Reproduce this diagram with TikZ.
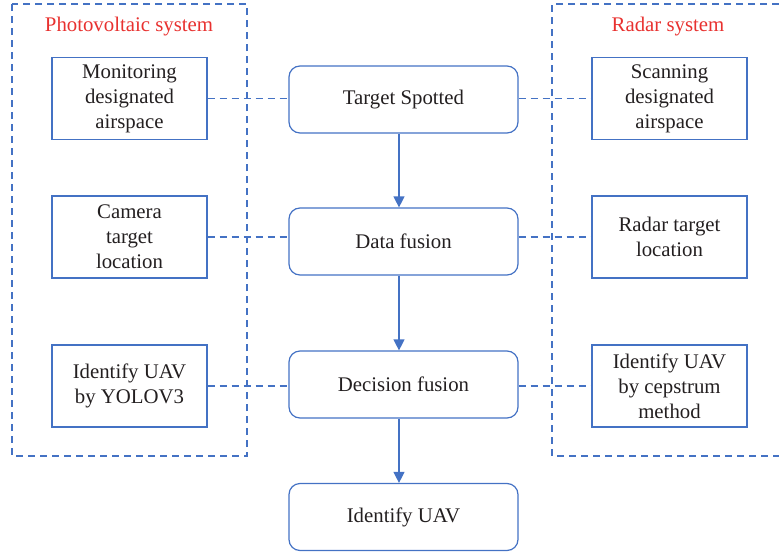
\documentclass[tikz,border=0pt]{standalone}
\usepackage{fontspec}
\setmainfont{Liberation Serif}
\usetikzlibrary{arrows.meta}
\definecolor{frameblue}{HTML}{4472C4}
\definecolor{titlered}{HTML}{E8312F}
\definecolor{ink}{HTML}{231F20}
\tikzset{
  sidebox/.style={draw=frameblue, line width=1.2pt, minimum width=155pt, minimum height=82pt,
    align=center, text=ink, font=\fontsize{20.8}{25}\selectfont, inner sep=0pt},
  stagebox/.style={draw=frameblue, line width=1.2pt, rounded corners=11pt, minimum width=229pt,
    minimum height=67pt, align=center, text=ink, font=\fontsize{20.8}{25}\selectfont, inner sep=0pt},
  grouptitle/.style={text=titlered, font=\fontsize{20.8}{24}\selectfont},
  groupframe/.style={draw=frameblue, line width=1.2pt, dash pattern=on 7pt off 5pt},
  link/.style={draw=frameblue, line width=1.2pt, dash pattern=on 7pt off 5pt},
  flow/.style={draw=frameblue, line width=1.2pt, -{Triangle[length=11pt,width=11pt]}}
}
\begin{document}
\begin{tikzpicture}[x=1pt,y=-1pt]
\useasboundingbox (0,0) rectangle (779,554);

% group frames
\draw[groupframe] (12,4) rectangle (247,456);
\draw[groupframe] (779,4) -- (552,4) -- (552,456) -- (779,456);
\node[grouptitle] (pvtitle) at (129,26.5) {Photovoltaic system};
\node[grouptitle] (radartitle) at (668,26.5) {Radar system};

% photovoltaic side
\node[sidebox] (mon) at (129.5,98.5) {Monitoring\\designated\\airspace};
\node[sidebox] (cam) at (129.5,237) {Camera\\target\\location};
\node[sidebox] (yolo) at (129.5,386) {Identify UAV\\by YOLOV3};

% radar side
\node[sidebox] (scan) at (669.5,98.5) {Scanning\\designated\\airspace};
\node[sidebox] (rloc) at (669.5,237) {Radar target\\location};
\node[sidebox] (ceps) at (669.5,386) {Identify UAV\\by cepstrum\\method};

% fusion chain
\node[stagebox] (spot) at (403.5,99.5) {Target Spotted};
\node[stagebox] (data) at (403.5,241.5) {Data fusion};
\node[stagebox] (dec) at (403.5,384.5) {Decision fusion};
\node[stagebox] (uav) at (403.5,517) {Identify UAV};

% dashed links
\draw[link] (mon.east) -- (mon.east -| spot.west);
\draw[link] (spot.east |- scan.west) -- (scan.west);
\draw[link] (cam.east) -- (cam.east -| data.west);
\draw[link] (data.east |- rloc.west) -- (rloc.west);
\draw[link] (yolo.east) -- (yolo.east -| dec.west);
\draw[link] (dec.east |- ceps.west) -- (ceps.west);

% flow arrows
\draw[flow] ([xshift=-4.5pt]spot.south) -- ([xshift=-4.5pt]data.north);
\draw[flow] ([xshift=-4.5pt]data.south) -- ([xshift=-4.5pt]dec.north);
\draw[flow] ([xshift=-4.5pt]dec.south) -- ([xshift=-4.5pt]uav.north);
\end{tikzpicture}
\end{document}
